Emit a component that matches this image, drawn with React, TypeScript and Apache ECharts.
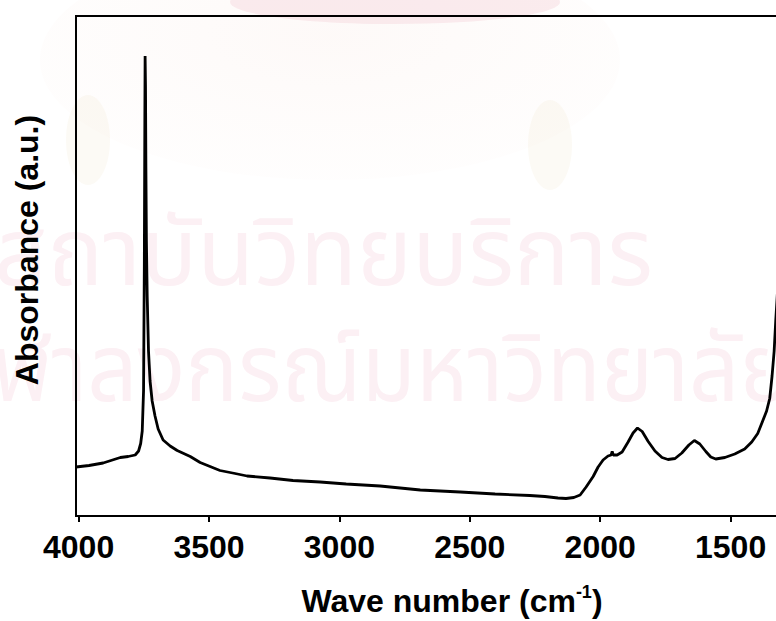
import { useEffect, useRef } from "react";
import * as echarts from "echarts";

// FTIR absorbance spectrum (arbitrary units), wavenumber in cm^-1, high to low
const wavenumbers = [
  4010, 3960, 3906, 3870, 3840, 3810, 3783, 3770, 3762, 3756, 3751, 3748, 3746, 3745,
  3743.5, 3742, 3740, 3737, 3732, 3726, 3718, 3707, 3695, 3676, 3649, 3622, 3572, 3534,
  3496, 3458, 3400, 3354, 3266, 3178, 3074, 2974, 2844, 2690, 2537, 2403, 2270, 2212,
  2162, 2131, 2101, 2077, 2054, 2027, 2008, 1989, 1970, 1958, 1954, 1950, 1935, 1916,
  1893, 1874, 1857, 1839, 1816, 1790, 1763, 1740, 1713, 1687, 1660, 1639, 1618, 1595,
  1576, 1557, 1522, 1484, 1446, 1419, 1396, 1377, 1362, 1350, 1341, 1333, 1327, 1320,
  1308,
];
const absorbance = [
  9.8, 10.1, 10.6, 11.2, 11.7, 11.9, 12.2, 13.0, 14.5, 17.0, 25, 50, 80, 92,
  86, 70, 55, 44, 33, 27, 23, 20, 17.4, 15.2, 14.0, 13.1, 11.9, 10.7,
  9.9, 9.1, 8.5, 8.0, 7.6, 7.1, 6.8, 6.4, 6.0, 5.2, 4.8, 4.4, 4.1, 3.9,
  3.6, 3.5, 3.7, 4.2, 5.8, 7.9, 9.8, 11.2, 12.0, 12.2, 12.9, 12.2, 12.2, 12.8,
  14.8, 16.6, 17.6, 16.9, 14.9, 13.0, 11.7, 11.3, 11.5, 12.6, 14.2, 15.1, 14.4, 12.9,
  11.8, 11.4, 11.7, 12.4, 13.4, 14.8, 16.5, 19.0, 21, 23.5, 28, 33, 39, 45,
  54,
];
const tickValues = [4000, 3500, 3000, 2500, 2000, 1500];

const FONT = '"Liberation Sans", Arial, Helvetica, sans-serif';
const THAI_FONT = '"Noto Sans Thai", "Noto Sans Thai Looped", "Noto Sans", "DejaVu Sans", sans-serif';
const WATERMARK = "#fcf0f4";

export default function App() {
  const ref = useRef<HTMLDivElement>(null);

  useEffect(() => {
    if (!ref.current) return;
    const chart = echarts.init(ref.current, undefined, { renderer: "svg" });
    const points = wavenumbers.map((w, i) => [w, absorbance[i]]);

    chart.setOption({
      animation: false,
      backgroundColor: "#ffffff",
      grid: {
        left: 76,
        top: 16,
        bottom: 105,
        right: -85,
        outerBoundsMode: "none",
        containLabel: false,
        show: true,
        borderColor: "#000",
        borderWidth: 2,
        backgroundColor: "transparent",
      },
      xAxis: {
        type: "value",
        inverse: true,
        min: 1000,
        max: 4010,
        axisLine: { show: true, lineStyle: { color: "#000", width: 2 } },
        axisTick: {
          show: true,
          inside: false,
          length: 6,
          customValues: tickValues,
          lineStyle: { color: "#000", width: 2 },
        },
        axisLabel: {
          customValues: tickValues,
          formatter: (v: number) => String(v),
          margin: 15,
          color: "#000",
          fontSize: 32,
          fontWeight: "bold",
          fontFamily: FONT,
        },
        splitLine: { show: false },
      },
      yAxis: {
        type: "value",
        min: 0,
        max: 100,
        axisLine: { show: false },
        axisTick: { show: false },
        axisLabel: { show: false },
        splitLine: { show: false },
      },
      graphic: [
        // faint emblem behind the upper part of the plot
        {
          type: "ellipse",
          z: -20,
          shape: { cx: 330, cy: 60, rx: 290, ry: 120 },
          style: {
            fill: new echarts.graphic.RadialGradient(0.5, 0.4, 0.6, [
              { offset: 0, color: "rgba(245,215,205,0.14)" },
              { offset: 1, color: "rgba(245,220,210,0.04)" },
            ]),
          },
        },
        {
          type: "ellipse",
          z: -19,
          shape: { cx: 395, cy: 2, rx: 165, ry: 22 },
          style: { fill: "rgba(235,160,175,0.18)" },
        },
        {
          type: "ellipse",
          z: -19,
          shape: { cx: 88, cy: 140, rx: 22, ry: 45 },
          style: { fill: "rgba(240,225,200,0.18)" },
        },
        {
          type: "ellipse",
          z: -19,
          shape: { cx: 550, cy: 145, rx: 22, ry: 45 },
          style: { fill: "rgba(240,225,200,0.18)" },
        },
        {
          type: "text",
          z: -10,
          x: -6,
          y: 256,
          scaleX: 0.98,
          style: {
            text: "สถาบันวิทยบริการ",
            font: `95px ${THAI_FONT}`,
            fill: WATERMARK,
            align: "left",
            verticalAlign: "middle",
            textAlign: "left",
            textVerticalAlign: "middle",
          },
        },
        {
          type: "text",
          z: -10,
          x: 792,
          y: 372,
          scaleX: 0.93,
          style: {
            text: "จุฬาลงกรณ์มหาวิทยาลัย",
            font: `95px ${THAI_FONT}`,
            fill: WATERMARK,
            align: "right",
            verticalAlign: "middle",
            textAlign: "right",
            textVerticalAlign: "middle",
          },
        },
        {
          type: "text",
          z: 10,
          x: 27,
          y: 250,
          rotation: Math.PI / 2,
          style: {
            text: "Absorbance (a.u.)",
            font: `bold 32px ${FONT}`,
            fill: "#000",
            align: "center",
            verticalAlign: "middle",
            textAlign: "center",
            textVerticalAlign: "middle",
          },
        },
        {
          type: "text",
          z: 10,
          x: 452,
          y: 601,
          style: {
            text: "{a|Wave number (cm}{s|-1}{a|)}",
            align: "center",
            verticalAlign: "middle",
            textAlign: "center",
            textVerticalAlign: "middle",
            fill: "#000",
            rich: {
              a: { fontSize: 32, fontWeight: "bold", fontFamily: FONT, lineHeight: 36, fill: "#000" },
              s: { fontSize: 18, fontWeight: "bold", fontFamily: FONT, verticalAlign: "top", lineHeight: 20, fill: "#000" },
            },
          },
        },
      ],
      series: [
        {
          type: "line",
          data: points,
          showSymbol: false,
          symbol: "none",
          lineStyle: { color: "#000", width: 2.8 },
          z: 3,
        },
      ],
    });

    return () => chart.dispose();
  }, []);

  return (
    <div
      ref={ref}
      style={{ position: "absolute", left: 0, top: 0, width: 776, height: 621, background: "#fff" }}
    />
  );
}
